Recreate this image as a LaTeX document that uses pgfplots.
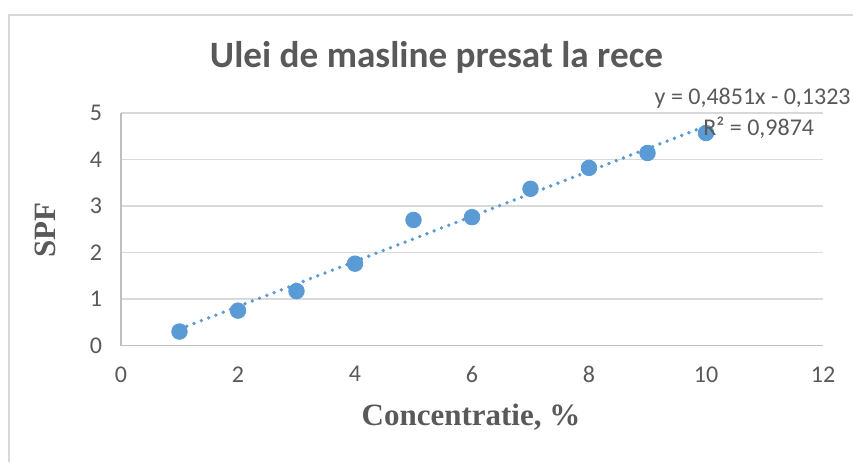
\documentclass[border=0pt]{standalone}
\usepackage{pgfplots}
\pgfplotsset{compat=1.18}
\usepackage{fontspec}
\setmainfont{Carlito}
\newfontfamily\timesfont{Liberation Serif}
\definecolor{txt}{HTML}{595959}
\definecolor{gridc}{HTML}{D9D9D9}
\definecolor{axc}{HTML}{BFBFBF}
\definecolor{ptc}{HTML}{5B9BD5}
\begin{document}
\begin{tikzpicture}
\useasboundingbox (0pt,0pt) rectangle (426.5pt,231pt);
\draw[gridc, line width=1pt] (4.25pt,0pt) -- (4.25pt,223.5pt) -- (430pt,223.5pt);
\begin{axis}[
  at={(60.5pt,58.25pt)}, anchor=south west,
  scale only axis, width=351pt, height=116.25pt,
  xmin=0, xmax=12, ymin=0, ymax=5,
  xtick={0,2,4,6,8,10,12}, ytick={0,1,2,3,4,5},
  axis x line=bottom, axis y line=left,
  axis line style={draw=axc, line width=0.8pt, -},
  major tick length=0pt,
  ymajorgrids, grid style={gridc, line width=0.8pt},
  tick label style={txt, font=\fontsize{12}{14}\selectfont},
  /pgf/number format/assume math mode=true,
  xticklabel style={yshift=-7pt},
  yticklabel style={xshift=-6pt},
  clip=false,
]
\addplot[ptc, line width=1.9pt, line cap=round, dash pattern=on 0pt off 3.9pt] coordinates {(1,0.3528) (10,4.7187)};
\addplot[only marks, mark=*, mark size=3.9pt, mark options={draw=ptc, fill=ptc}] coordinates {
(1,0.30) (2,0.75) (3,1.17) (4,1.76) (5,2.70) (6,2.76) (7,3.37) (8,3.82) (9,4.14) (10,4.57)};
\end{axis}
\node[txt, font=\bfseries\fontsize{18.6}{22}\selectfont] at (218.25pt,202.5pt) {Ulei de masline presat la rece};
\node[txt, font=\timesfont\bfseries\fontsize{15.5}{18}\selectfont, rotate=90] at (22.5pt,116pt) {SPF};
\node[txt, font=\timesfont\bfseries\fontsize{15.5}{18}\selectfont] at (235.5pt,22.5pt) {Concentratie, \%};
\node[txt, font=\fontsize{12}{14}\selectfont, anchor=east, inner sep=0pt] at (425.5pt,182pt) {y = 0,4851x - 0,1323};
\node[txt, font=\fontsize{12}{14}\selectfont, anchor=west, inner sep=0pt] at (351.5pt,167pt) {R² = 0,9874};
\end{tikzpicture}
\end{document}
